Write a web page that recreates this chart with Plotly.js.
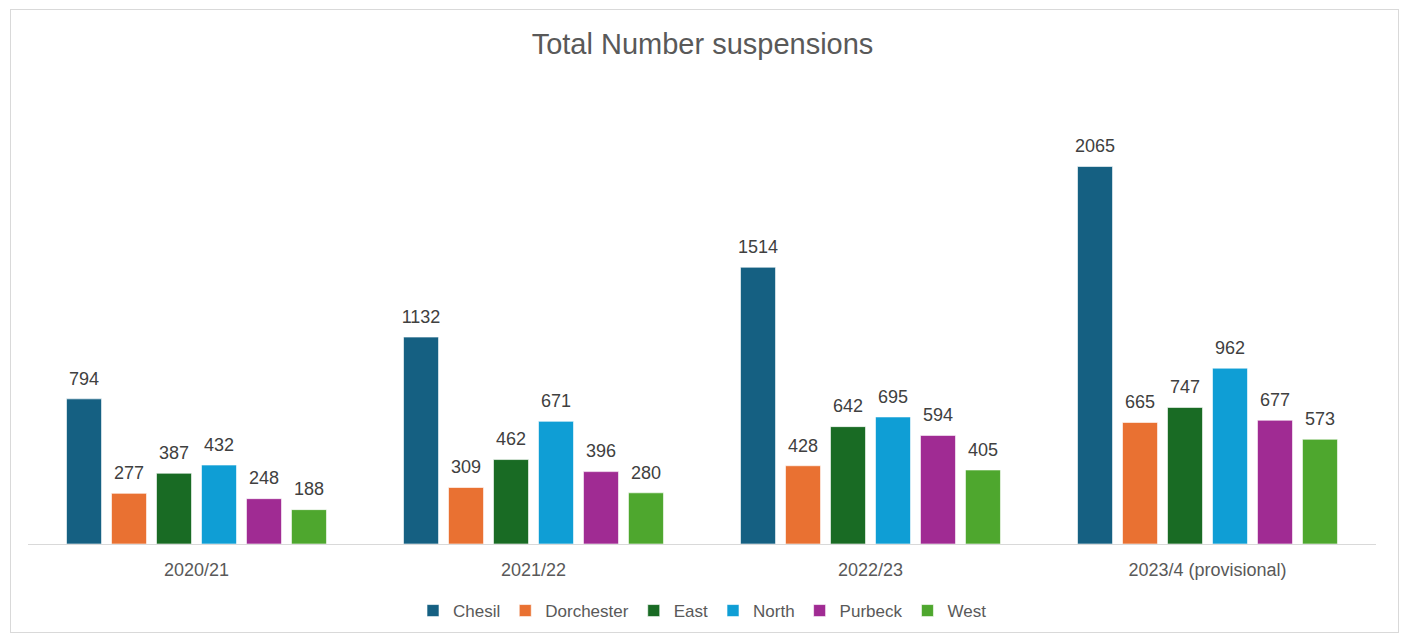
<!DOCTYPE html>
<html><head><meta charset="utf-8">
<script src="https://cdn.plot.ly/plotly-3.0.1.min.js"></script>
<style>
html,body{margin:0;padding:0;background:#fff;}
#wrap{position:relative;width:1405px;height:637px;}
#chart{width:1405px;height:637px;}
#frame{position:absolute;left:10px;top:9px;width:1387px;height:622px;border:1px solid #d9d9d9;pointer-events:none;}
</style></head>
<body><div id="wrap"><div id="chart"></div><div id="frame"></div></div>
<script>
const years = ["2020/21", "2021/22", "2022/23", "2023/4 (provisional)"];
const chesil = [794, 1132, 1514, 2065];
const dorchester = [277, 309, 428, 665];
const east = [387, 462, 642, 747];
const north = [432, 671, 695, 962];
const purbeck = [248, 396, 594, 677];
const west = [188, 280, 405, 573];

const series = [
  ["Chesil", chesil, "#156082"],
  ["Dorchester", dorchester, "#E97132"],
  ["East", east, "#196B24"],
  ["North", north, "#0F9ED5"],
  ["Purbeck", purbeck, "#A02B93"],
  ["West", west, "#4EA72E"]
];
const FONT = "Liberation Sans, Arial, sans-serif";

const bars = series.map(([name, vals, color]) => ({
  type: "bar",
  name: name,
  x: years,
  y: vals,
  offsetgroup: name,
  alignmentgroup: "a",
  marker: {color: color, line: {color: "rgba(255,255,255,0.6)", width: 1}},
  hoverinfo: "skip"
}));
const labels = series.map(([name, vals, color]) => ({
  type: "scatter",
  mode: "markers+text",
  name: name + " labels",
  showlegend: false,
  x: years,
  y: vals,
  offsetgroup: name,
  alignmentgroup: "a",
  marker: {size: 14, color: "rgba(0,0,0,0)"},
  text: vals.map(String),
  textposition: "top center",
  cliponaxis: false,
  textfont: {family: FONT, size: 18, color: "#404040"},
  hoverinfo: "skip"
}));

const layout = {
  width: 1405, height: 637,
  margin: {l: 28, r: 29, t: 87, b: 93},
  paper_bgcolor: "#fff", plot_bgcolor: "#fff",
  title: {text: "Total Number suspensions", x: 0.5, xanchor: "center", y: 0.931, yanchor: "middle",
          font: {family: FONT, size: 29, color: "#595959"}},
  barmode: "group",
  scattermode: "group",
  bargap: 0.199,
  bargroupgap: 0.222,
  xaxis: {showline: true, linecolor: "#d9d9d9", linewidth: 1, ticks: "", showgrid: false,
          tickfont: {family: FONT, size: 18, color: "#595959"},
          ticklabelstandoff: 9, automargin: false},
  yaxis: {range: [0, 2500], visible: false, showgrid: false, zeroline: false, automargin: false},
  showlegend: true,
  legend: {orientation: "h", x: 0.5, xanchor: "center", xref: "container",
           y: 0.0408, yanchor: "middle", yref: "container",
           font: {family: FONT, size: 17, color: "#595959"},
           traceorder: "normal"},
  font: {family: FONT}
};

Plotly.newPlot("chart", bars.concat(labels), layout, {displayModeBar: false, staticPlot: true});
</script></body></html>
